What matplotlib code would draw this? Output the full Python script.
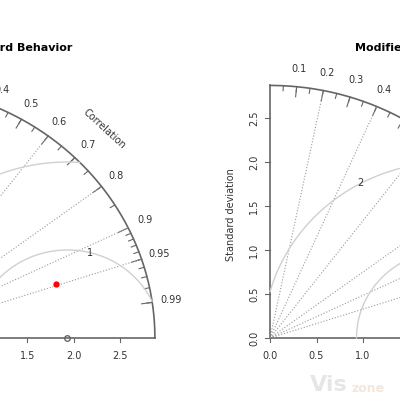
import matplotlib.pyplot as plt
import numpy as np

ref_sd = 1.93
max_sd = 2.87
model_sd = [1.91]
model_corr = [0.947]
corr_labels = [0.1, 0.2, 0.3, 0.4, 0.5, 0.6, 0.7, 0.8, 0.9, 0.95, 0.99]
corr_lines = [0.2, 0.4, 0.6, 0.8, 0.9, 0.95]
rms_radii = [1, 2]
rms_label_angles = [1.33, 2.07]
sd_ticks = [0.0, 0.5, 1.0, 1.5, 2.0, 2.5]

GREY = '#666666'
LIGHT = '#d0d0d0'

fig = plt.figure(figsize=(4, 4), dpi=100)
# pixel mapping: 93 px per unit horizontally, 88 px per unit vertically, baseline at y=338
def make_ax(left_px, origin_px):
    ax = fig.add_axes([left_px / 400, 0, 0.5, 1])
    ax.set_xlim((left_px - origin_px) / 93, (left_px + 200 - origin_px) / 93)
    ax.set_ylim(-62 / 88, 338 / 88)
    ax.axis('off')
    return ax

def taylor(ax, left_axis):
    t = np.linspace(0, np.pi / 2, 300)
    ax.plot(max_sd * np.cos(t), max_sd * np.sin(t), color=GREY, lw=1.2, clip_on=False)
    ax.plot([0, max_sd], [0, 0], color=GREY, lw=1.2)
    if left_axis:
        ax.plot([0, 0], [0, max_sd], color=GREY, lw=1.2)
    # correlation ticks
    minor = list(np.arange(0.05, 0.9, 0.05)) + list(np.arange(0.91, 1.0, 0.01))
    for c in minor:
        a = np.arccos(c)
        ax.plot([max_sd * np.cos(a), 0.98 * max_sd * np.cos(a)],
                [max_sd * np.sin(a), 0.98 * max_sd * np.sin(a)], color=GREY, lw=0.8)
    for c in corr_labels:
        a = np.arccos(c)
        ax.plot([max_sd * np.cos(a), 0.96 * max_sd * np.cos(a)],
                [max_sd * np.sin(a), 0.96 * max_sd * np.sin(a)], color=GREY, lw=0.8)
        ax.text(1.07 * max_sd * np.cos(a), 1.07 * max_sd * np.sin(a), str(c),
                fontsize=7, ha='center', va='center', color='#333333')
    for c in corr_lines:
        a = np.arccos(c)
        ax.plot([0, max_sd * np.cos(a)], [0, max_sd * np.sin(a)], color='#999999',
                lw=0.8, ls=':')
    a = np.arccos(0.7)
    ax.text(1.16 * max_sd * np.cos(a), 1.16 * max_sd * np.sin(a), 'Correlation',
            fontsize=7, rotation=-np.degrees(a) + 3, ha='center', va='center', color='#333333')
    # rms arcs
    for r, ang in zip(rms_radii, rms_label_angles):
        th = np.linspace(0, np.pi, 600)
        x = ref_sd + r * np.cos(th)
        y = r * np.sin(th)
        m = (x >= 0) & (np.hypot(x, y) <= max_sd)
        ax.plot(x[m], y[m], color=LIGHT, lw=1.0)
        ax.text(ref_sd + r * np.cos(ang), r * np.sin(ang), str(r), fontsize=7,
                ha='center', va='center', color='#333333')
    # x ticks
    for v in sd_ticks:
        ax.plot([v, v], [0, -0.05], color=GREY, lw=0.8)
        ax.text(v, -0.2, f'{v:.1f}', fontsize=7, ha='center', va='center', color='#333333')
        if left_axis:
            ax.plot([0, -0.05], [v, v], color=GREY, lw=0.8)
            ax.text(-0.17, v, f'{v:.1f}', fontsize=7, ha='center', va='center',
                    rotation=90, color='#333333')
    if left_axis:
        ax.text(-0.42, 1.4, 'Standard deviation', fontsize=7, rotation=90,
                ha='center', va='center', color='#333333')
    ax.plot([ref_sd], [0], 'o', mfc='none', mec=GREY, ms=4, clip_on=False)
    for s, c in zip(model_sd, model_corr):
        ax.plot([s * c], [s * np.sin(np.arccos(c))], 'o', color='red', ms=3.5)

ax1 = make_ax(0, -112)
taylor(ax1, False)
ax2 = make_ax(200, 270)
taylor(ax2, True)

fig.text(72 / 400, 1 - 48 / 400, 'Taylor Diagram - Standard Behavior', fontsize=8,
         fontweight='bold', ha='right', va='center')
fig.text(355 / 400, 1 - 48 / 400, 'Modified Behavior', fontsize=8,
         fontweight='bold', ha='left', va='center')
fig.text(310 / 400, 1 - 385 / 400, 'Vis', fontsize=16, fontweight='bold', color='#e6e6e6',
         ha='left', va='center')
fig.text(352 / 400, 1 - 388 / 400, 'zone', fontsize=9, fontweight='bold', color='#f3e6dc',
         ha='left', va='center')

fig.savefig('out.png', dpi=100)
